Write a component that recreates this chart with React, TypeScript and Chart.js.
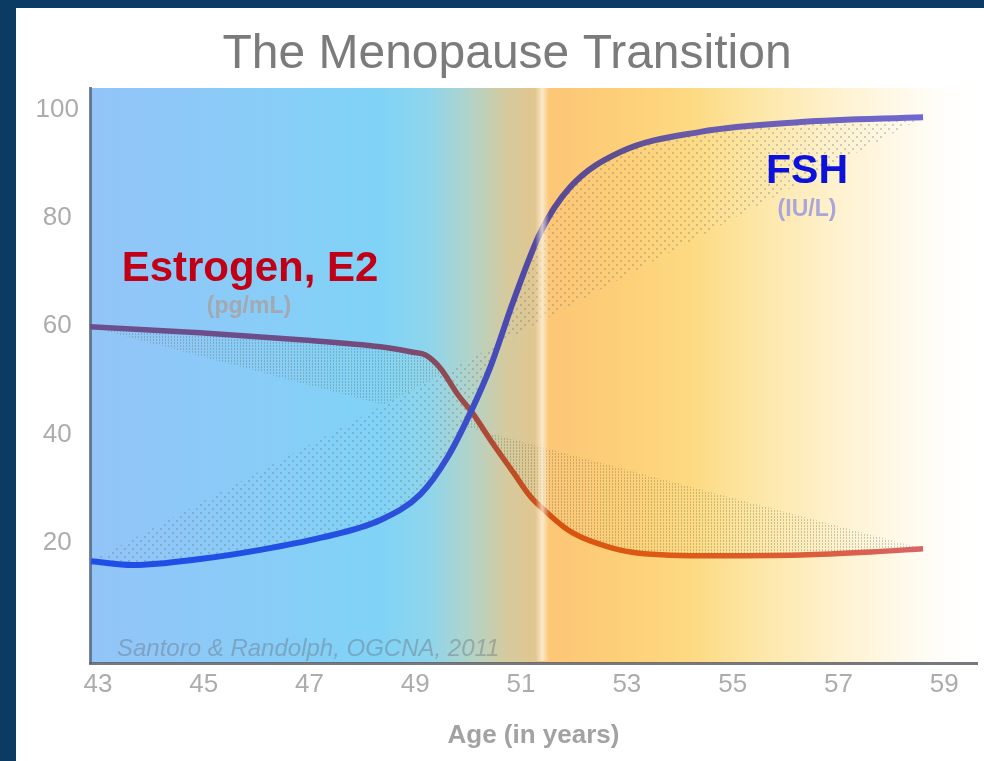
import React, { useEffect, useRef } from 'react';
import { Chart, registerables } from 'chart.js';

Chart.register(...registerables);

// ---------------- data ----------------
const TITLE = 'The Menopause Transition';
const X_TITLE = 'Age (in years)';
const CITATION = 'Santoro & Randolph, OGCNA, 2011';
const E2_LABEL = 'Estrogen, E2';
const E2_UNIT = '(pg/mL)';
const FSH_LABEL = 'FSH';
const FSH_UNIT = '(IU/L)';

const X_TICKS = [43, 45, 47, 49, 51, 53, 55, 57, 59];
const Y_TICKS = [20, 40, 60, 80, 100];

const AGE_E2 = [42.85, 44.93, 46.82, 48.34, 48.96, 49.19, 49.47, 49.81, 50.08, 50.42, 50.86, 51.18, 51.5, 51.84, 52.12, 52.6, 53.07, 54.39, 56.29, 57.61, 58.6];
const E2 = [59.9, 58.8, 57.5, 56.2, 55.2, 54.7, 52.3, 47.3, 44.0, 39.0, 32.9, 28.5, 25.5, 22.7, 21.1, 19.4, 18.3, 17.6, 17.75, 18.3, 18.9];

const AGE_FSH = [42.87, 43.66, 44.93, 46.07, 47.2, 48.34, 49.1, 49.61, 50.04, 50.42, 50.86, 51.37, 51.93, 52.88, 54.39, 56.29, 58.6];
const FSH = [16.6, 15.9, 17.0, 18.7, 20.9, 24.2, 29.0, 35.8, 44.0, 52.5, 64.8, 77.4, 85.7, 92.2, 95.9, 97.7, 98.6];

// straight trend edges of the shaded bands
const E2_TREND_AGE = [42.85, 58.6];
const E2_TREND = [59.9, 18.9];
const FSH_TREND_AGE = [42.87, 58.6];
const FSH_TREND = [16.6, 98.6];

const MENOPAUSE_AGE = 51.4;

// ---------------- styles ----------------
const FAMILY = '"Liberation Sans", Arial, Helvetica, sans-serif';

const BG_STOPS: [number, string][] = [
  [42.85, '#93c4f8'],
  [45.88, '#89ccf8'],
  [48.34, '#80d3f6'],
  [49.28, '#8fd5ec'],
  [50.04, '#b2d3c8'],
  [50.7, '#d4ca9f'],
  [51.3, '#e2c68e'],
  [51.5, '#fcc676'],
  [52.88, '#fdcf78'],
  [54.2, '#fdda82'],
  [55.53, '#fde7a8'],
  [57.04, '#fef2d0'],
  [58.84, '#fffdf8'],
  [59.62, '#ffffff'],
];

const E2_COLORS: [number, string][] = [
  [42.85, '#6a4f90'],
  [47.0, '#6e4c86'],
  [48.9, '#7a4a72'],
  [49.5, '#8c4a58'],
  [50.1, '#a44a3e'],
  [50.9, '#c04e24'],
  [51.8, '#d8540e'],
  [54.0, '#de5a16'],
  [56.5, '#dc5c3c'],
  [58.6, '#d86466'],
];

const FSH_COLORS: [number, string][] = [
  [42.85, '#1e4ee8'],
  [47.0, '#2250e4'],
  [49.2, '#2e50d8'],
  [50.0, '#3c4ec8'],
  [50.8, '#4c4aae'],
  [51.5, '#5a4a96'],
  [52.8, '#5e4e92'],
  [54.5, '#6a5cac'],
  [58.6, '#7068d2'],
];

function hGradient(chart: any, stops: [number, string][]) {
  const area = chart.chartArea;
  const xs = chart.scales && chart.scales.x;
  if (!area || !xs) return stops[0][1];
  const x0 = area.left;
  const x1 = area.right;
  const g = chart.ctx.createLinearGradient(x0, 0, x1, 0);
  for (const [age, col] of stops) {
    const p = xs.getPixelForValue(age);
    const t = Math.min(1, Math.max(0, (p - x0) / (x1 - x0)));
    g.addColorStop(t, col);
  }
  return g;
}

const backgroundPlugin = {
  id: 'panelBackground',
  beforeDraw(chart: any) {
    const { ctx, chartArea } = chart;
    if (!chartArea) return;
    ctx.save();
    ctx.fillStyle = hGradient(chart, BG_STOPS);
    ctx.fillRect(chartArea.left, chartArea.top, chartArea.right - chartArea.left, chartArea.bottom - chartArea.top);
    ctx.restore();
  },
  afterDatasetsDraw(chart: any) {
    const { ctx, chartArea } = chart;
    const xs = chart.scales.x;
    const cx = xs.getPixelForValue(MENOPAUSE_AGE);
    ctx.save();
    const g = ctx.createLinearGradient(cx - 7, 0, cx + 7, 0);
    g.addColorStop(0, 'rgba(255,245,225,0)');
    g.addColorStop(0.5, 'rgba(255,246,228,0.72)');
    g.addColorStop(1, 'rgba(255,245,225,0)');
    ctx.fillStyle = g;
    ctx.fillRect(cx - 7, chartArea.top, 14, chartArea.bottom - chartArea.top - 2);
    // citation
    ctx.font = `italic 24px ${FAMILY}`;
    ctx.fillStyle = 'rgba(105,112,125,0.42)';
    ctx.textAlign = 'left';
    ctx.textBaseline = 'alphabetic';
    ctx.fillText(CITATION, 117, 656);
    ctx.restore();
  },
  afterDraw(chart: any) {
    const { ctx } = chart;
    ctx.save();
    ctx.textAlign = 'center';
    ctx.textBaseline = 'alphabetic';
    ctx.font = `48px ${FAMILY}`;
    ctx.fillStyle = '#7b7b7b';
    ctx.fillText(TITLE, 507, 68);

    ctx.font = `bold 42px ${FAMILY}`;
    ctx.fillStyle = '#c00016';
    ctx.fillText(E2_LABEL, 250, 281);
    ctx.font = `bold 23px ${FAMILY}`;
    ctx.fillStyle = '#a3a9b0';
    ctx.fillText(E2_UNIT, 249, 313);

    ctx.font = `bold 41px ${FAMILY}`;
    ctx.fillStyle = '#0c12dc';
    ctx.fillText(FSH_LABEL, 807, 183);
    ctx.font = `bold 23px ${FAMILY}`;
    ctx.fillStyle = '#a9a6da';
    ctx.fillText(FSH_UNIT, 807, 216);
    ctx.restore();
  },
};

function makePattern(ctx: CanvasRenderingContext2D, w: number, h: number, draw: (c: CanvasRenderingContext2D) => void) {
  const tile = document.createElement('canvas');
  tile.width = w;
  tile.height = h;
  const c = tile.getContext('2d') as CanvasRenderingContext2D;
  draw(c);
  return ctx.createPattern(tile, 'repeat');
}

export default function App() {
  const ref = useRef<HTMLCanvasElement | null>(null);

  useEffect(() => {
    const canvas = ref.current;
    if (!canvas) return;
    const ctx = canvas.getContext('2d') as CanvasRenderingContext2D;

    const hatch = makePattern(ctx, 3, 3, (c) => {
      c.fillStyle = 'rgba(95,105,70,0.32)';
      c.fillRect(0, 0, 1, 2);
    });
    const dots = makePattern(ctx, 8, 8, (c) => {
      c.fillStyle = 'rgba(105,110,118,0.30)';
      c.fillRect(0, 0, 2, 2);
      c.fillRect(4, 4, 2, 2);
    });

    const pts = (xs: number[], ys: number[]) => xs.map((x, i) => ({ x, y: ys[i] }));

    const chart = new Chart(ctx, {
      type: 'line',
      data: {
        datasets: [
          {
            label: FSH_LABEL,
            data: pts(AGE_FSH, FSH),
            borderColor: (c: any) => hGradient(c.chart, FSH_COLORS),
            borderWidth: 6,
            pointRadius: 0,
            cubicInterpolationMode: 'monotone',
            fill: false,
          },
          {
            label: E2_LABEL,
            data: pts(AGE_E2, E2),
            borderColor: (c: any) => hGradient(c.chart, E2_COLORS),
            borderWidth: 5.5,
            pointRadius: 0,
            cubicInterpolationMode: 'monotone',
            fill: false,
          },
          {
            label: 'FSH band',
            data: pts(FSH_TREND_AGE, FSH_TREND),
            borderWidth: 0,
            borderColor: 'rgba(0,0,0,0)',
            pointRadius: 0,
            tension: 0,
            fill: { target: 0 },
            backgroundColor: dots as any,
          },
          {
            label: 'FSH band cover',
            data: pts(FSH_TREND_AGE, FSH_TREND),
            borderWidth: 0,
            borderColor: 'rgba(0,0,0,0)',
            pointRadius: 0,
            tension: 0,
            fill: { target: 0 },
            backgroundColor: (c: any) => hGradient(c.chart, BG_STOPS),
          },
          {
            label: 'E2 band',
            data: pts(E2_TREND_AGE, E2_TREND),
            borderWidth: 0,
            borderColor: 'rgba(0,0,0,0)',
            pointRadius: 0,
            tension: 0,
            fill: { target: 1 },
            backgroundColor: hatch as any,
          },
        ] as any,
      },
      options: {
        responsive: false,
        animation: false,
        events: [],
        layout: { padding: { left: 0, top: 88, right: 7, bottom: 0 } },
        plugins: {
          legend: { display: false },
          tooltip: { enabled: false },
          title: { display: false },
          filler: { drawTime: 'beforeDatasetsDraw' },
        } as any,
        scales: {
          x: {
            type: 'linear',
            min: 42.85,
            max: 59.62,
            afterBuildTicks: (s: any) => {
              s.ticks = X_TICKS.map((v) => ({ value: v }));
            },
            afterFit: (s: any) => {
              s.height = 98;
            },
            grid: { display: false, drawTicks: false },
            border: { display: true, color: 'rgba(88,90,98,0.82)', width: 3 },
            ticks: {
              color: '#acacac',
              font: { family: FAMILY, size: 26 },
              padding: 6,
              maxRotation: 0,
              autoSkip: false,
              callback: (v: any) => String(v),
            },
            title: {
              display: true,
              text: X_TITLE,
              color: '#a2a2a2',
              font: { family: FAMILY, size: 26, weight: 'bold' },
              padding: { top: 0, bottom: 10 },
            },
          },
          y: {
            type: 'linear',
            min: -2.2,
            max: 104,
            afterBuildTicks: (s: any) => {
              s.ticks = Y_TICKS.map((v) => ({ value: v }));
            },
            afterFit: (s: any) => {
              s.width = 90;
            },
            grid: { display: false, drawTicks: false },
            border: { display: true, color: 'rgba(88,100,125,0.8)', width: 3 },
            ticks: {
              color: '#acacac',
              font: { family: FAMILY, size: 26 },
              padding: 11,
              crossAlign: 'center',
              callback: (v: any) => String(v),
            },
          },
        } as any,
      },
      plugins: [backgroundPlugin],
    } as any);

    return () => chart.destroy();
  }, []);

  return (
    <div style={{ position: 'absolute', left: 0, top: 0, width: 984, height: 761, background: '#0b3a63', overflow: 'hidden' }}>
      <div style={{ position: 'absolute', left: 16, top: 8, width: 968, height: 753, background: '#ffffff' }} />
      <canvas ref={ref} width={984} height={761} style={{ position: 'absolute', left: 0, top: 0, display: 'block' }} />
    </div>
  );
}
